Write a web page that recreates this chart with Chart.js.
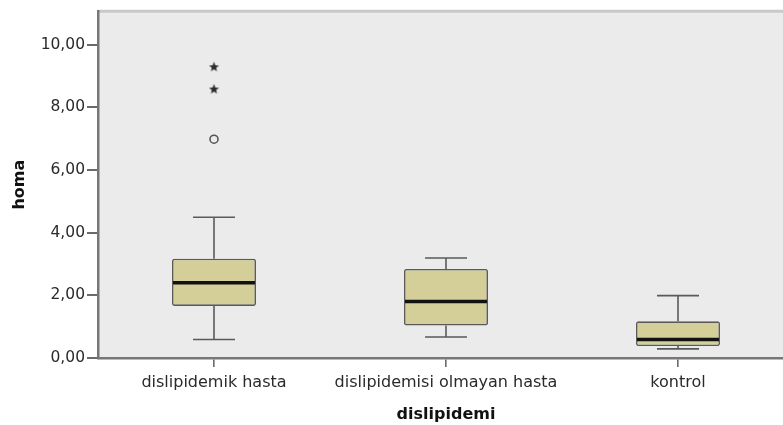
<!DOCTYPE html>
<html>
<head>
<meta charset="utf-8">
<script src="https://cdn.jsdelivr.net/npm/chart.js@4/dist/chart.umd.min.js"></script>
<style>
  html, body { margin: 0; padding: 0; background: #ffffff; overflow: hidden; }
  #wrap { width: 783px; height: 425px; overflow: hidden; position: relative; }
  canvas { display: block; }
</style>
</head>
<body>
<div id="wrap"><canvas id="c" width="800" height="425"></canvas></div>
<script>
// ---- data ----
const categories = ['dislipidemik hasta', 'dislipidemisi olmayan hasta', 'kontrol'];
const whiskerLow  = [0.59, 0.67, 0.29];
const q1          = [1.66, 1.04, 0.38];
const median      = [2.40, 1.80, 0.59];
const q3          = [3.17, 2.84, 1.17];
const whiskerHigh = [4.49, 3.19, 1.99];
const outlierCat  = ['dislipidemik hasta'];
const outlierVal  = [6.98];
const extremeCat  = ['dislipidemik hasta', 'dislipidemik hasta'];
const extremeVal  = [8.58, 9.29];
const yTicks      = [0, 2, 4, 6, 8, 10];
const yMin = 0, yMax = 11.06;
const xTitle = 'dislipidemi';
const yTitle = 'homa';

Chart.defaults.font.family = "'DejaVu Sans', sans-serif";

// star point style
const star = document.createElement('canvas');
star.width = 11; star.height = 11;
(function () {
  const g = star.getContext('2d');
  g.fillStyle = '#2b2b2b';
  g.beginPath();
  const cx = 5.5, cy = 5.8, R = 5.2, r = 2.3;
  for (let i = 0; i < 10; i++) {
    const a = -Math.PI / 2 + i * Math.PI / 5;
    const rad = i % 2 === 0 ? R : r;
    const px = cx + rad * Math.cos(a), py = cy + rad * Math.sin(a);
    if (i === 0) g.moveTo(px, py); else g.lineTo(px, py);
  }
  g.closePath();
  g.fill();
})();

const boxPlugin = {
  id: 'boxPlugin',
  beforeDraw(chart) {
    const { ctx, chartArea: a } = chart;
    ctx.save();
    ctx.fillStyle = '#ebebeb';
    ctx.fillRect(a.left, a.top, a.right - a.left, a.bottom - a.top);
    ctx.strokeStyle = '#c9c9c9';
    ctx.lineWidth = 3;
    ctx.beginPath();
    ctx.moveTo(a.left, a.top);
    ctx.lineTo(a.right + 10, a.top);
    ctx.stroke();
    ctx.restore();
  },
  beforeDatasetsDraw(chart) {
    const { ctx } = chart;
    const y = chart.scales.y;
    const meta = chart.getDatasetMeta(0);
    ctx.save();
    ctx.strokeStyle = '#5a5a5a';
    ctx.lineWidth = 1.6;
    meta.data.forEach((bar, i) => {
      const cx = bar.x;
      const cap = bar.width / 4;
      const yl = y.getPixelForValue(whiskerLow[i]);
      const yh = y.getPixelForValue(whiskerHigh[i]);
      const y1 = y.getPixelForValue(q1[i]);
      const y3 = y.getPixelForValue(q3[i]);
      ctx.beginPath();
      ctx.moveTo(cx, yh); ctx.lineTo(cx, y3);
      ctx.moveTo(cx, y1); ctx.lineTo(cx, yl);
      ctx.moveTo(cx - cap, yh); ctx.lineTo(cx + cap, yh);
      ctx.moveTo(cx - cap, yl); ctx.lineTo(cx + cap, yl);
      ctx.stroke();
    });
    ctx.restore();
  },
  afterDatasetsDraw(chart) {
    const { ctx } = chart;
    const y = chart.scales.y;
    const meta = chart.getDatasetMeta(0);
    ctx.save();
    ctx.strokeStyle = '#111111';
    ctx.lineWidth = 3.5;
    meta.data.forEach((bar, i) => {
      const half = bar.width / 2 - 1;
      const ym = y.getPixelForValue(median[i]);
      ctx.beginPath();
      ctx.moveTo(bar.x - half, ym); ctx.lineTo(bar.x + half, ym);
      ctx.stroke();
    });
    ctx.restore();
  }
};

new Chart(document.getElementById('c'), {
  type: 'bar',
  data: {
    labels: categories,
    datasets: [
      {
        type: 'bar',
        data: categories.map((c, i) => [q1[i], q3[i]]),
        backgroundColor: '#d4cf98',
        borderColor: '#5a5a5a',
        borderWidth: 1.6,
        borderSkipped: false,
        borderRadius: 2,
        categoryPercentage: 1,
        barPercentage: 0.362,
        order: 2
      },
      {
        type: 'scatter',
        data: outlierCat.map((c, i) => ({ x: c, y: outlierVal[i] })),
        pointStyle: 'circle',
        radius: 4,
        backgroundColor: 'rgba(0,0,0,0)',
        borderColor: '#555555',
        borderWidth: 1.6,
        order: 1
      },
      {
        type: 'scatter',
        data: extremeCat.map((c, i) => ({ x: c, y: extremeVal[i] })),
        pointStyle: star,
        radius: 5,
        order: 1
      }
    ]
  },
  options: {
    responsive: false,
    animation: false,
    layout: { padding: { top: 8, right: 6, left: 0, bottom: 0 } },
    plugins: { legend: { display: false }, tooltip: { enabled: false } },
    scales: {
      x: {
        type: 'category',
        offset: true,
        grid: { display: true, drawOnChartArea: false, drawTicks: true, tickLength: 9, color: '#6a6a6a', lineWidth: 1.6, offset: false },
        border: { display: true, color: '#777777', width: 2.5 },
        ticks: { color: '#2a2a2a', font: { size: 16 }, padding: 6, maxRotation: 0, autoSkip: false },
        title: { display: true, text: xTitle, color: '#111111', font: { size: 16, weight: 'bold' }, padding: { top: 0, bottom: 1 } },
        afterFit(s) { s.height = 67; }
      },
      y: {
        type: 'linear',
        min: yMin,
        max: yMax,
        afterBuildTicks(s) { s.ticks = yTicks.map(v => ({ value: v })); },
        grid: { display: true, drawOnChartArea: false, drawTicks: true, tickLength: 11, color: '#6a6a6a', lineWidth: 2 },
        border: { display: true, color: '#777777', width: 2.5 },
        ticks: { color: '#2a2a2a', font: { size: 15.5 }, padding: 2, callback: v => v.toFixed(2).replace('.', ',') },
        title: { display: true, text: yTitle, color: '#111111', font: { size: 16, weight: 'bold' }, padding: { top: 10, bottom: 0 } },
        afterFit(s) { s.width = 98; }
      }
    }
  },
  plugins: [boxPlugin]
});
</script>
</body>
</html>
